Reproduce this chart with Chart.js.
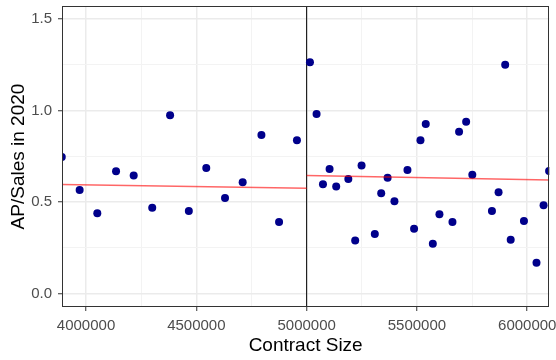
<!DOCTYPE html>
<html>
<head>
<meta charset="utf-8">
<script src="https://cdn.jsdelivr.net/npm/chart.js@4/dist/chart.umd.min.js"></script>
<style>
  html, body { margin: 0; padding: 0; background: #ffffff; }
  #wrap { width: 556px; height: 360px; position: relative; }
</style>
</head>
<body>
<div id="wrap"><canvas id="c" width="556" height="360"></canvas></div>
<script>
// ---- data ----
const leftX  = [3890000, 3971000, 4051000, 4136000, 4216000, 4300000, 4381000, 4466000, 4545000, 4630000, 4710000, 4795000, 4875000, 4956000];
const leftY  = [0.747, 0.567, 0.439, 0.669, 0.645, 0.470, 0.975, 0.452, 0.687, 0.523, 0.609, 0.867, 0.392, 0.838];
const rightX = [5015000, 5045000, 5074000, 5104000, 5134000, 5189000, 5220000, 5249000, 5309000, 5338000, 5367000, 5398000, 5457000, 5487000, 5516000, 5540000, 5572000, 5602000, 5661000, 5691000, 5723000, 5751000, 5840000, 5870000, 5900000, 5925000, 5985000, 6042000, 6074000, 6099000];
const rightY = [1.264, 0.982, 0.598, 0.681, 0.585, 0.627, 0.290, 0.700, 0.326, 0.549, 0.634, 0.505, 0.676, 0.355, 0.838, 0.927, 0.272, 0.434, 0.392, 0.885, 0.940, 0.650, 0.452, 0.554, 1.251, 0.295, 0.397, 0.169, 0.483, 0.670];
const fitLeftX  = [3891000, 5000000];
const fitLeftY  = [0.596, 0.576];
const fitRightX = [5000000, 6100000];
const fitRightY = [0.646, 0.621];
const cutoff = 5000000;
const xRange = [3891000, 6100000];
const yRange = [-0.073, 1.572];
const xTicks = [4000000, 4250000, 4500000, 4750000, 5000000, 5250000, 5500000, 5750000, 6000000];
const xMajorStep = 500000;
const yTicks = [0, 0.25, 0.5, 0.75, 1.0, 1.25, 1.5];
const yMajorStep = 0.5;
const xTitle = 'Contract Size';
const yTitle = 'AP/Sales in 2020';

const toPts = (xs, ys) => xs.map((x, i) => ({x: x, y: ys[i]}));
const isMajor = (v, step) => Math.abs(v / step - Math.round(v / step)) < 1e-6;

const FONT = "'Liberation Sans', Arial, sans-serif";

const borderPlugin = {
  id: 'panelBorder',
  afterDatasetsDraw(chart) {
    const a = chart.chartArea, ctx = chart.ctx;
    ctx.save();
    ctx.strokeStyle = '#333333';
    ctx.lineWidth = 1;
    ctx.strokeRect(Math.round(a.left) + 0.5, Math.round(a.top) + 0.5, Math.round(a.right - a.left) - 1, Math.round(a.bottom - a.top) - 1);
    ctx.restore();
  }
};

new Chart(document.getElementById('c'), {
  type: 'scatter',
  data: {
    datasets: [
      { type: 'line', data: toPts(fitLeftX, fitLeftY), borderColor: 'rgba(255,0,0,0.6)', borderWidth: 1.5, pointRadius: 0, fill: false, order: 0, clip: 0 },
      { type: 'line', data: toPts(fitRightX, fitRightY), borderColor: 'rgba(255,0,0,0.6)', borderWidth: 1.5, pointRadius: 0, fill: false, order: 0, clip: 0 },
      { data: toPts(leftX, leftY), backgroundColor: '#00008B', borderColor: '#00008B', pointRadius: 4, borderWidth: 0, order: 1, clip: 0 },
      { data: toPts(rightX, rightY), backgroundColor: '#00008B', borderColor: '#00008B', pointRadius: 4, borderWidth: 0, order: 1, clip: 0 },
      { type: 'line', data: [{x: cutoff, y: yRange[0]}, {x: cutoff, y: yRange[1]}], borderColor: '#000000', borderWidth: 1, pointRadius: 0, fill: false, order: 2, clip: 0 }
    ]
  },
  options: {
    responsive: false,
    animation: false,
    devicePixelRatio: 1,
    layout: { padding: { left: 0, right: 6.7, top: 6, bottom: 0 } },
    plugins: { legend: { display: false }, tooltip: { enabled: false } },
    scales: {
      x: {
        type: 'linear',
        min: xRange[0], max: xRange[1],
        afterBuildTicks: (s) => { s.ticks = xTicks.map(v => ({value: v})); },
        afterFit: (s) => { s.height = 53; s.paddingLeft = 0; s.paddingRight = 0; },
        ticks: {
          autoSkip: false, maxRotation: 0, padding: 6,
          color: '#4D4D4D', font: { family: FONT, size: 15 },
          callback: (v) => isMajor(v, xMajorStep) ? String(v) : ''
        },
        grid: {
          color: (c) => isMajor(c.tick.value, xMajorStep) ? '#EBEBEB' : '#F3F3F3',
          lineWidth: (c) => isMajor(c.tick.value, xMajorStep) ? 1.5 : 1,
          tickLength: 4, tickWidth: 1,
          tickColor: (c) => isMajor(c.tick.value, xMajorStep) ? '#333333' : 'rgba(0,0,0,0)'
        },
        border: { display: false },
        title: { display: true, text: xTitle, color: '#000000', font: { family: FONT, size: 19 }, padding: { top: 0, bottom: 3 } }
      },
      y: {
        type: 'linear',
        min: yRange[0], max: yRange[1],
        afterBuildTicks: (s) => { s.ticks = yTicks.map(v => ({value: v})); },
        afterFit: (s) => { s.width = 62; s.paddingTop = 0; s.paddingBottom = 0; },
        ticks: {
          autoSkip: false, padding: 6,
          color: '#4D4D4D', font: { family: FONT, size: 15 },
          callback: (v) => isMajor(v, yMajorStep) ? Number(v).toFixed(1) : ''
        },
        grid: {
          color: (c) => isMajor(c.tick.value, yMajorStep) ? '#EBEBEB' : '#F3F3F3',
          lineWidth: (c) => isMajor(c.tick.value, yMajorStep) ? 1.5 : 1,
          tickLength: 4, tickWidth: 1,
          tickColor: (c) => isMajor(c.tick.value, yMajorStep) ? '#333333' : 'rgba(0,0,0,0)'
        },
        border: { display: false },
        title: { display: true, text: yTitle, color: '#000000', font: { family: FONT, size: 19 }, padding: { top: 7, bottom: 0 } }
      }
    }
  },
  plugins: [borderPlugin]
});
</script>
</body>
</html>
